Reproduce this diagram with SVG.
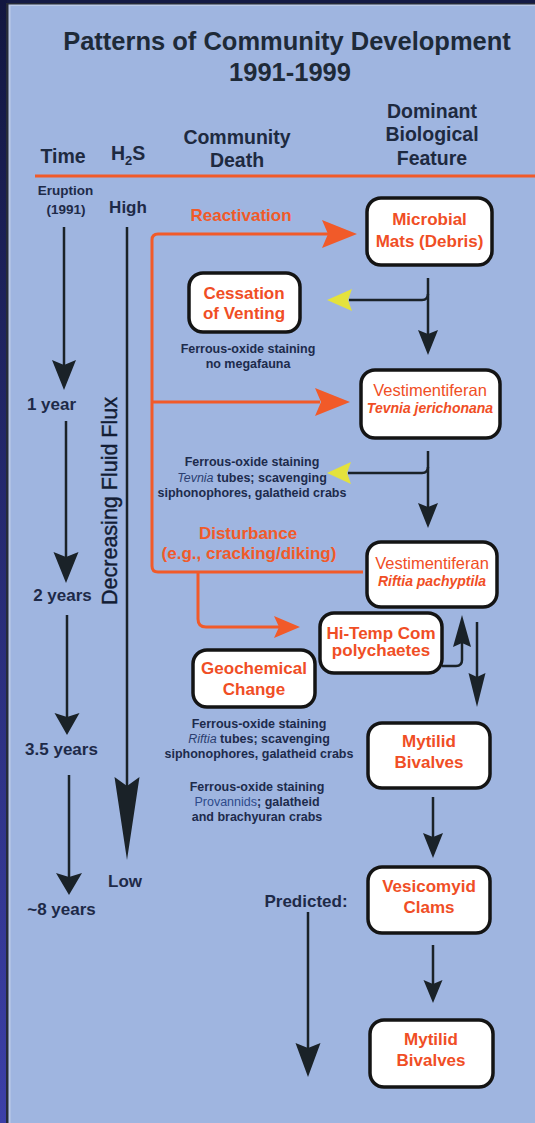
<svg xmlns="http://www.w3.org/2000/svg" width="535" height="1123" viewBox="0 0 535 1123">
<defs>
<linearGradient id="frameGrad" x1="0" y1="0" x2="0" y2="1">
<stop offset="0" stop-color="#121740"/>
<stop offset="1" stop-color="#3c40a8"/>
</linearGradient>
</defs>
<style>
text{font-family:"Liberation Sans",Arial,sans-serif}
.title{font-size:25.5px;font-weight:bold;fill:#1e2a38;text-anchor:middle}
.hdr{font-size:19.5px;font-weight:bold;fill:#1e2a40;text-anchor:middle}
.time{font-size:17px;font-weight:bold;fill:#1e2a48;text-anchor:middle}
.small{font-size:13.5px;font-weight:bold;fill:#1e2a48;text-anchor:middle}
.note{font-size:12.5px;font-weight:bold;fill:#1d2b4c;text-anchor:middle}
.it{font-style:italic;font-weight:normal;fill:#2c3f70}
.reg{font-weight:normal;fill:#2d4a8a}
.box rect{fill:#fff;stroke:#141414;stroke-width:3.5}
.box text{font-size:17px;font-weight:bold;fill:#f04e25;text-anchor:middle}
.box text.vn{font-weight:normal;font-size:16.5px}
.box text.sp{font-style:italic;font-size:14px}
.org{fill:#f15a29;font-weight:bold;text-anchor:middle;font-size:17px}
.ol{fill:none;stroke:#f15a29;stroke-width:3}
.oh{fill:#f15a29}
.bl{fill:none;stroke:#1a2228;stroke-width:2.5}
.bh{fill:#1a2228}
.yh{fill:#e4e23c}
</style>
<g id="background">
<rect x="0" y="0" width="535" height="1123" fill="#141a44"/>
<rect x="0" y="0" width="7" height="1123" fill="url(#frameGrad)"/>
<rect x="6" y="3" width="529" height="1120" fill="#262b38"/>
<rect x="8.5" y="4.5" width="526.5" height="1118.5" fill="#bccbe8"/>
<rect x="10.5" y="6" width="524.5" height="1117" fill="#9fb5e0"/>
</g>
<g id="title">
<text class="title" x="287" y="50">Patterns of Community Development</text>
<text class="title" x="290" y="81">1991-1999</text>
</g>
<g id="headers">
<text class="hdr" x="63" y="163">Time</text>
<text class="hdr" x="111" y="160" style="text-anchor:start">H<tspan font-size="13" dy="5">2</tspan><tspan dy="-5">S</tspan></text>
<text class="hdr" x="237" y="144">Community</text>
<text class="hdr" x="237" y="167">Death</text>
<text class="hdr" x="432" y="118">Dominant</text>
<text class="hdr" x="432" y="141">Biological</text>
<text class="hdr" x="432" y="165">Feature</text>
<line x1="35" y1="176" x2="535" y2="176" stroke="#f15a29" stroke-width="3"/>
</g>
<g id="timeline">
<text class="small" x="65.5" y="195">Eruption</text>
<text class="small" x="66" y="214">(1991)</text>
<text class="time" x="128" y="213">High</text>
<text class="time" x="51.5" y="410">1 year</text>
<text class="time" x="62.5" y="601">2 years</text>
<text class="time" x="61.5" y="755">3.5 years</text>
<text class="time" x="61.5" y="915">~8 years</text>
<text class="time" x="125" y="887">Low</text>
<text transform="translate(117,501) rotate(-90)" font-size="21.5" fill="#121c34" stroke="#121c34" stroke-width="0.4" text-anchor="middle">Decreasing Fluid Flux</text>
</g>
<g id="connectors">
<path class="bl" d="M64 227 V368"/>
<path class="bh" d="M64 390 L52 360 L64 365 L76 360 Z"/>
<path class="bl" d="M66 421 V560"/>
<path class="bh" d="M66 583 L53.5 552 L66 557 L78.5 552 Z"/>
<path class="bl" d="M67 615 V718"/>
<path class="bh" d="M67 735 L54.5 713 L67 717 L79.5 713 Z"/>
<path class="bl" d="M69 775 V878"/>
<path class="bh" d="M69 895 L56 873 L69 877 L82 873 Z"/>
<path class="bl" d="M127 227 V790"/>
<path class="bh" d="M127 860 L114.5 777 L127 786 L139.5 777 Z"/>
<path class="ol" d="M363 572 H158 Q152 572 152 566 V240 Q152 234 158 234 H330"/>
<path class="oh" d="M357 234 L322 220 L328 234 L322 248 Z"/>
<path class="ol" d="M152 402 H320"/>
<path class="oh" d="M350 402 L315 388 L321 402 L315 416 Z"/>
<path class="ol" d="M198 572 V619 Q198 627 206 627 H280"/>
<path class="oh" d="M300 627 L274 616 L279 627 L274 638 Z"/>
<path class="bl" d="M428 278 V335"/>
<path class="bh" d="M428 355 L418 330 L428 334 L438 330 Z"/>
<path class="bl" d="M349 300 H422 Q428 300 428 294"/>
<path class="yh" d="M327 300 L352 289 L348 300 L352 311 Z"/>
<path class="bl" d="M428 451 V510"/>
<path class="bh" d="M428 528 L418 503 L428 507 L438 503 Z"/>
<path class="bl" d="M348 473 H422 Q428 473 428 467"/>
<path class="yh" d="M327 473 L351 462 L347 473 L351 484 Z"/>
<path class="bl" d="M442 666 H456 Q462 666 462 660 V642"/>
<path class="bh" d="M462 615 L453 647 L462 643 L471 647 Z"/>
<path class="bl" d="M477 622 V690"/>
<path class="bh" d="M477 707 L468.5 673 L477 677 L485.5 673 Z"/>
<path class="bl" d="M433 797 V840"/>
<path class="bh" d="M433 858 L423 833 L433 837 L443 833 Z"/>
<path class="bl" d="M433 945 V985"/>
<path class="bh" d="M433 1003 L423.5 980 L433 984 L442.5 980 Z"/>
<path class="bl" d="M308 912 V1050"/>
<path class="bh" d="M308 1077 L295.5 1043 L308 1048 L320.5 1043 Z"/>
</g>
<g id="labels">
<text class="org" x="241" y="221">Reactivation</text>
<text class="org" x="248" y="539" font-size="16.5">Disturbance</text>
<text class="org" x="249" y="559" font-size="16.5">(e.g., cracking/diking)</text>
<text class="time" x="306" y="907">Predicted:</text>
</g>
<g id="notes">
<text class="note" x="248" y="353">Ferrous-oxide staining</text>
<text class="note" x="248" y="368">no megafauna</text>
<text class="note" x="252" y="466">Ferrous-oxide staining</text>
<text class="note" x="252" y="482"><tspan class="it">Tevnia</tspan> tubes; scavenging</text>
<text class="note" x="252" y="497">siphonophores, galatheid crabs</text>
<text class="note" x="259" y="728">Ferrous-oxide staining</text>
<text class="note" x="259" y="743"><tspan class="it">Riftia</tspan> tubes; scavenging</text>
<text class="note" x="259" y="758">siphonophores, galatheid crabs</text>
<text class="note" x="257" y="791">Ferrous-oxide staining</text>
<text class="note" x="257" y="806"><tspan class="reg">Provannids</tspan>; galatheid</text>
<text class="note" x="257" y="821">and brachyuran crabs</text>
</g>
<g id="microbial" class="box">
<rect x="367" y="198" width="125" height="67" rx="14"/>
<text x="429.5" y="225">Microbial</text>
<text x="429.5" y="247">Mats (Debris)</text>
</g>
<g id="cessation" class="box">
<rect x="189" y="273" width="111" height="59" rx="14"/>
<text x="244" y="299">Cessation</text>
<text x="244" y="319">of Venting</text>
</g>
<g id="tevnia" class="box">
<rect x="361" y="370" width="139" height="68" rx="14"/>
<text class="vn" x="430" y="396">Vestimentiferan</text>
<text class="sp" x="430" y="413">Tevnia jerichonana</text>
</g>
<g id="riftia" class="box">
<rect x="367" y="542" width="130" height="65" rx="14"/>
<text class="vn" x="432" y="569">Vestimentiferan</text>
<text class="sp" x="432" y="586">Riftia pachyptila</text>
</g>
<g id="hitemp" class="box">
<rect x="320" y="613" width="122" height="60" rx="14"/>
<text x="381" y="639">Hi-Temp Com</text>
<text x="381" y="656">polychaetes</text>
</g>
<g id="geochemical" class="box">
<rect x="193" y="650" width="122" height="57" rx="14"/>
<text x="254" y="674">Geochemical</text>
<text x="254" y="695">Change</text>
</g>
<g id="mytilid1" class="box">
<rect x="368" y="723" width="122" height="65" rx="14"/>
<text x="429" y="747">Mytilid</text>
<text x="429" y="768">Bivalves</text>
</g>
<g id="vesicomyid" class="box">
<rect x="368" y="867" width="122" height="66" rx="14"/>
<text x="429" y="892">Vesicomyid</text>
<text x="429" y="913">Clams</text>
</g>
<g id="mytilid2" class="box">
<rect x="370" y="1020" width="123" height="67" rx="14"/>
<text x="431" y="1045">Mytilid</text>
<text x="431" y="1066">Bivalves</text>
</g>
</svg>
